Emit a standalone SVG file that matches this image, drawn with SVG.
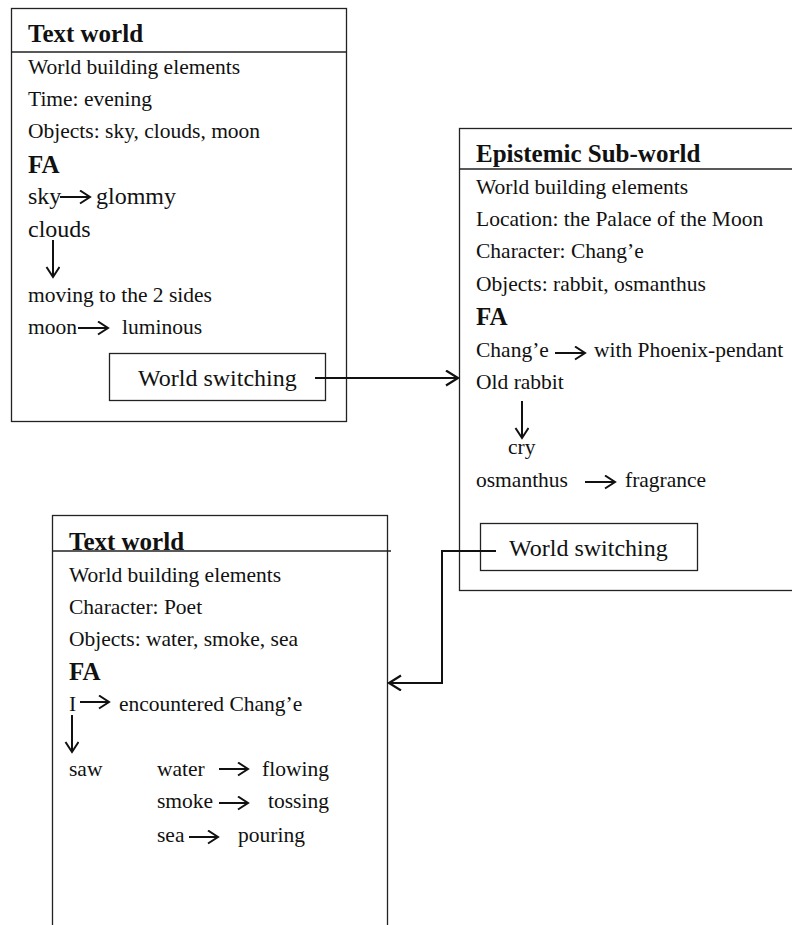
<svg xmlns="http://www.w3.org/2000/svg" width="792" height="925" viewBox="0 0 792 925">
<defs>
<style>
.box{fill:#fff;stroke:#222;stroke-width:1.3}
.hl{stroke:#222;stroke-width:1.3}
text{font-family:"Liberation Serif","Times New Roman",serif;fill:#111;font-size:21.5px}
.b{font-weight:bold;font-size:25px}
.lg{font-size:24px}
.ar{stroke:#111;stroke-width:2;fill:none;marker-end:url(#ah)}
.cn{stroke:#111;stroke-width:2;fill:none;marker-end:url(#ah2)}
</style>
<marker id="ah" markerUnits="userSpaceOnUse" markerWidth="14" markerHeight="16" refX="11" refY="7" orient="auto" viewBox="0 0 14 16">
<path d="M1,0.5 L11,7 L1,13.5" fill="none" stroke="#111" stroke-width="2"/>
</marker>
<marker id="ah2" markerUnits="userSpaceOnUse" markerWidth="16" markerHeight="18" refX="13" refY="8" orient="auto" viewBox="0 0 16 18">
<path d="M1,0.5 L13,8 L1,15.5" fill="none" stroke="#111" stroke-width="2.2"/>
</marker>
</defs>
<rect width="792" height="925" fill="#fff"/>

<g id="text-world-1">
<rect class="box" x="11.5" y="8.5" width="335" height="413"/>
<line class="hl" x1="11.5" y1="52" x2="346.5" y2="52"/>
<text class="b" x="28" y="42">Text world</text>
<text x="28" y="74">World building elements</text>
<text x="28" y="106">Time: evening</text>
<text x="28" y="138">Objects: sky, clouds, moon</text>
<text class="b" x="28" y="173">FA</text>
<text class="lg" x="28" y="204">sky</text>
<line class="ar" x1="60" y1="197" x2="90" y2="197"/>
<text class="lg" x="96" y="204">glommy</text>
<text class="lg" x="28" y="237">clouds</text>
<line class="ar" x1="53" y1="240" x2="53" y2="277"/>
<text x="28" y="302">moving to the 2 sides</text>
<text x="28" y="334">moon</text>
<line class="ar" x1="78" y1="328" x2="108" y2="328"/>
<text x="122" y="334">luminous</text>
</g>

<g id="world-switching-1">
<rect class="box" x="109.5" y="353.5" width="216" height="47"/>
<text class="lg" x="138" y="386">World switching</text>
</g>

<g id="epistemic-sub-world">
<rect class="box" x="459.5" y="128.5" width="400" height="462"/>
<line class="hl" x1="459.5" y1="169" x2="792" y2="169"/>
<text class="b" x="476" y="162">Epistemic Sub-world</text>
<text x="476" y="194">World building elements</text>
<text x="476" y="226">Location: the Palace of the Moon</text>
<text x="476" y="258">Character: Chang’e</text>
<text x="476" y="291">Objects: rabbit, osmanthus</text>
<text class="b" x="476" y="325">FA</text>
<text x="476" y="357">Chang’e</text>
<line class="ar" x1="555" y1="353" x2="585" y2="353"/>
<text x="594" y="357">with Phoenix-pendant</text>
<text x="476" y="389">Old rabbit</text>
<line class="ar" x1="522" y1="401" x2="522" y2="438"/>
<text x="508" y="454">cry</text>
<text x="476" y="487">osmanthus</text>
<line class="ar" x1="585" y1="482" x2="615" y2="482"/>
<text x="625" y="487">fragrance</text>
</g>

<g id="world-switching-2">
<rect class="box" x="480.5" y="523.5" width="217" height="47"/>
<text class="lg" x="509" y="556">World switching</text>
</g>

<g id="text-world-2">
<rect class="box" x="52.5" y="515.5" width="335" height="420"/>
<line class="hl" x1="52.5" y1="551" x2="391" y2="551"/>
<text class="b" x="69" y="550">Text world</text>
<text x="69" y="582">World building elements</text>
<text x="69" y="614">Character: Poet</text>
<text x="69" y="646">Objects: water, smoke, sea</text>
<text class="b" x="69" y="680">FA</text>
<text x="69" y="711">I</text>
<line class="ar" x1="80" y1="702" x2="109" y2="702"/>
<text x="119" y="711">encountered Chang’e</text>
<line class="ar" x1="72" y1="715" x2="72" y2="752"/>
<text x="69" y="776">saw</text>
<text x="157" y="776">water</text>
<line class="ar" x1="219" y1="769" x2="248" y2="769"/>
<text x="262" y="776">flowing</text>
<text x="157" y="808">smoke</text>
<line class="ar" x1="219" y1="803" x2="248" y2="803"/>
<text x="268" y="808">tossing</text>
<text x="157" y="842">sea</text>
<line class="ar" x1="189" y1="837" x2="218" y2="837"/>
<text x="238" y="842">pouring</text>
</g>

<g id="connectors">
<line class="cn" x1="315" y1="378" x2="458" y2="378"/>
<polyline class="cn" points="496,551 442,551 442,683 389,683"/>
</g>
</svg>
